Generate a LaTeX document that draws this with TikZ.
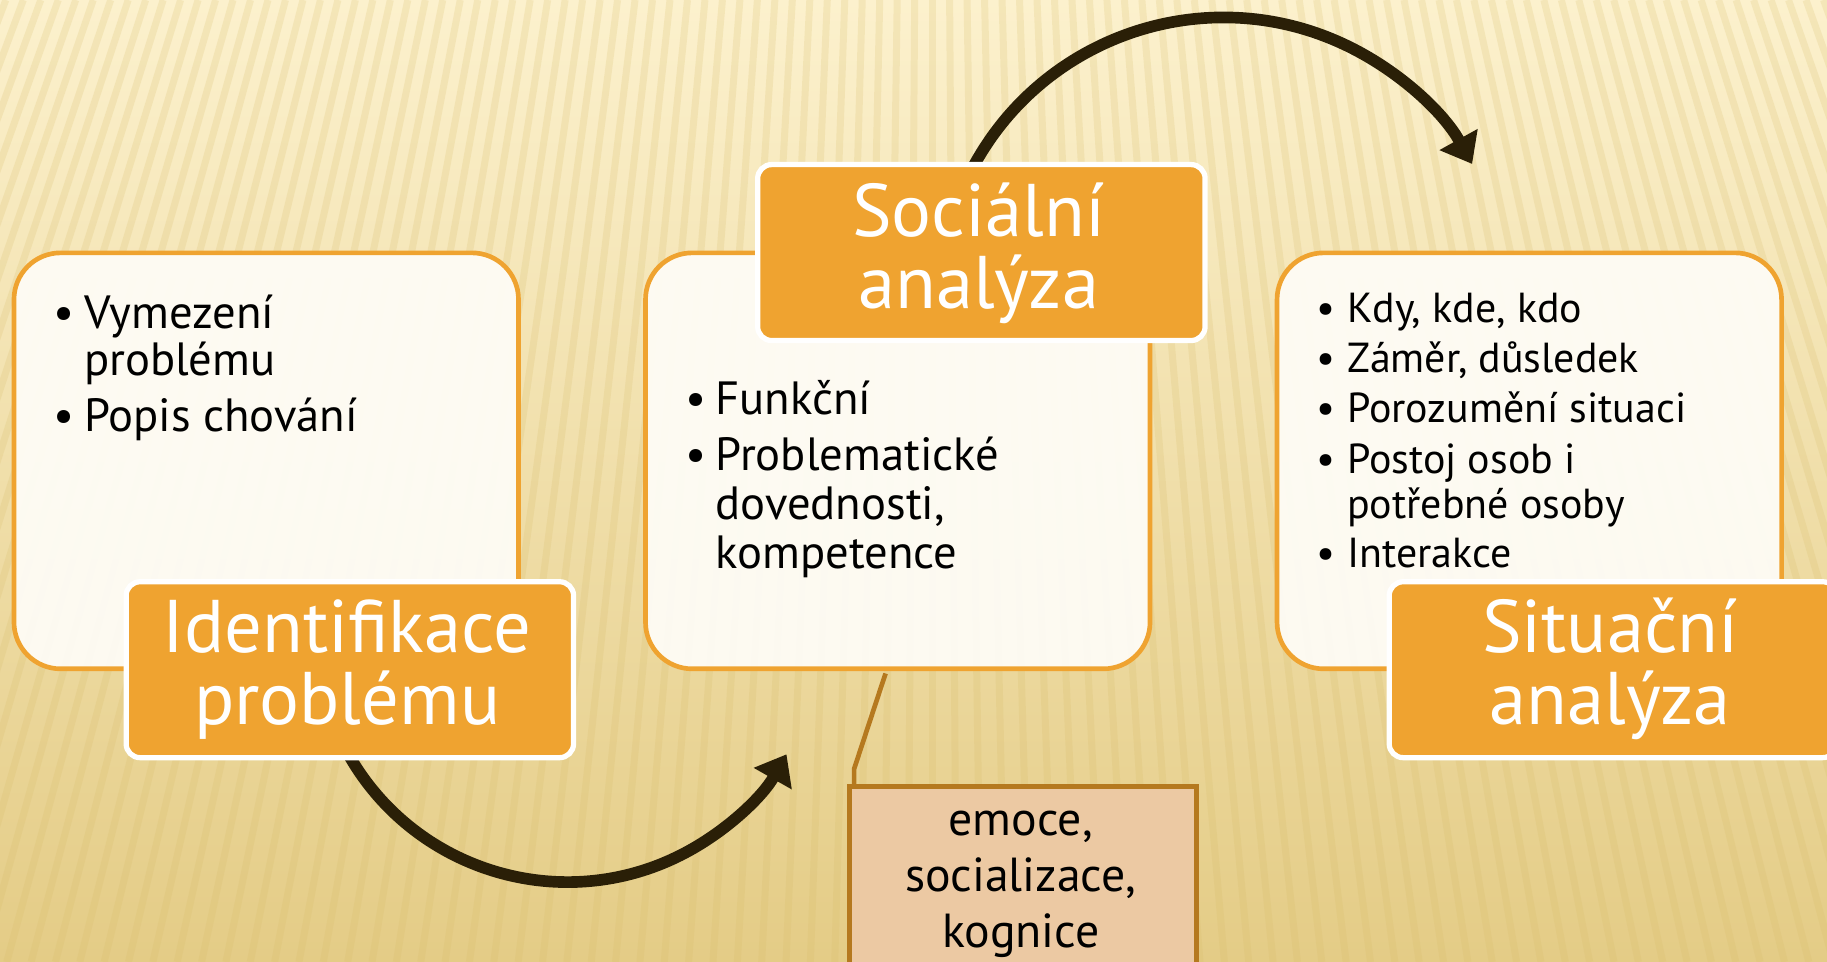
\documentclass[tikz,border=0pt]{standalone}
\usepackage{fontspec}
\setmainfont{PT Sans}
\usetikzlibrary{arrows.meta,calc}
\definecolor{bgtop}{HTML}{FCF1CD}
\definecolor{bgbot}{HTML}{E4CC86}
\definecolor{stripec}{HTML}{D6BA66}
\definecolor{orng}{HTML}{EFA330}
\definecolor{boxfill}{HTML}{FEFCF6}
\definecolor{arrowc}{HTML}{2A1F07}
\definecolor{peach}{HTML}{ECC9A3}
\definecolor{brownline}{HTML}{B5791F}
\begin{document}
\begin{tikzpicture}[x=1pt,y=-1pt,
  wbox/.style={draw=orng, line width=4pt, fill=boxfill, fill opacity=0.95, draw opacity=1, rounded corners=40pt, inner sep=0pt, minimum width=433pt, minimum height=357pt, anchor=north west},
  lbl/.style={draw=white, line width=4.5pt, fill=orng, rounded corners=12pt, inner sep=0pt, minimum width=384pt, minimum height=151pt, anchor=north west},
  ltxt/.style={text=white, font=\fontsize{64}{64}\selectfont, anchor=base, inner sep=0pt},
  btxt/.style={text=black, font=\fontsize{40}{40}\selectfont, anchor=base west, inner sep=0pt},
  bdot/.style={text=black, font=\fontsize{40}{40}\selectfont, anchor=base, inner sep=0pt},
  rtxt/.style={text=black, font=\fontsize{36}{36}\selectfont, anchor=base west, inner sep=0pt},
  rdot/.style={text=black, font=\fontsize{36}{36}\selectfont, anchor=base, inner sep=0pt},
  ctxt/.style={text=black, font=\fontsize{41}{41}\selectfont, anchor=base, inner sep=0pt},
  cbox/.style={draw=brownline, line width=4pt, fill=peach, inner sep=0pt, minimum width=298pt, minimum height=175pt, anchor=north west},
  arr/.style={draw=arrowc, line width=10pt, -{Triangle[length=24pt,width=36pt]}},
  callline/.style={draw=brownline, line width=4pt},
]
\useasboundingbox (0,0) rectangle (1568,825.6);
% background
\fill[top color=bgtop, bottom color=bgbot] (0,0) rectangle (1568,825.6);
\begin{scope}
\clip (0,0) rectangle (1568,825.6);
\foreach \i in {-56,...,55}{
  \draw[stripec, line width=6pt, opacity=0.2] (800+15*\i,0) -- (800+20.9*\i,825.6);
}
\end{scope}
% content boxes
\node[wbox] (b1) at (10,215) {};
\node[wbox] (b2) at (552,215) {};
\node[wbox] (b3) at (1094,215) {};
% callout
\node[cbox] (cb) at (727,673) {};
\draw[callline] ($(b2.south west)+(208,2)$) -- (733,660) -- ($(cb.north west)+(6,0)$);
\node[ctxt] (c1) at (876,717) {emoce,};
\node[ctxt] (c2) at (876,765) {socializace,};
\node[ctxt] (c3) at (876,813) {kognice};
% arrows
\coordinate (ctop) at (1050,259);
\coordinate (cbot) at (487,541);
\draw[arr] (ctop) ++(206:244) arc[start angle=206, end angle=331, radius=244];
\draw[arr] (cbot) ++(152:216) arc[start angle=152, end angle=29.5, radius=216];
% labels
\node[lbl] (l1) at (106,497) {};
\node[lbl] (l2) at (648,139) {};
\node[lbl] (l3) at (1190,497) {};
\node[ltxt] (t1a) at (298,560) {Identifikace};
\node[ltxt] (t1b) at (298,622) {problému};
\node[ltxt] (t2a) at (840,203) {Sociální};
\node[ltxt] (t2b) at (840,265) {analýza};
\node[ltxt] (t3a) at (1382,560) {Situační};
\node[ltxt] (t3b) at (1382,622) {analýza};
% left bullets
\node[bdot] (d11) at (55,282) {•};
\node[btxt] (x11) at (72,282) {Vymezení};
\node[btxt] (x12) at (72,322) {problému};
\node[bdot] (d12) at (55,370) {•};
\node[btxt] (x13) at (72,370) {Popis chování};
% middle bullets
\node[bdot] (d21) at (597,356) {•};
\node[btxt] (x21) at (614,356) {Funkční};
\node[bdot] (d22) at (597,404) {•};
\node[btxt] (x22) at (614,404) {Problematické};
\node[btxt] (x23) at (614,446) {dovednosti,};
\node[btxt] (x24) at (614,488) {kompetence};
% right bullets
\node[rdot] (d31) at (1138,277) {•};
\node[rtxt] (x31) at (1156,277) {Kdy, kde, kdo};
\node[rdot] (d32) at (1138,320) {•};
\node[rtxt] (x32) at (1156,320) {Záměr, důsledek};
\node[rdot] (d33) at (1138,363) {•};
\node[rtxt] (x33) at (1156,363) {Porozumění situaci};
\node[rdot] (d34) at (1138,406) {•};
\node[rtxt] (x34) at (1156,406) {Postoj osob i};
\node[rtxt] (x35) at (1156,445) {potřebné osoby};
\node[rdot] (d35) at (1138,487) {•};
\node[rtxt] (x36) at (1156,487) {Interakce};
\end{tikzpicture}
\end{document}
